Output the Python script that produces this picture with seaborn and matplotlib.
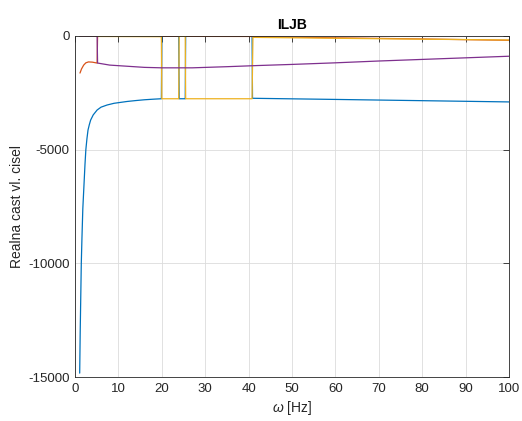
import matplotlib
matplotlib.use("Agg")
import matplotlib.pyplot as plt
import seaborn as sns
import numpy as np

# Series data
blue_x = [1.08, 1.2, 1.3, 1.45, 1.6, 1.8, 2.07, 2.3, 2.5, 2.75, 3.0, 3.3, 3.6, 4.2, 5.1, 6.0, 7.4,
          9.0, 10.5, 12, 14, 16, 18, 19.9,
          20.0, 23.9, 24.0, 25.4, 25.5, 40.8, 40.9, 60, 80, 100]
blue_y = [-14830, -13000, -11800, -10000, -8900, -7600, -6550, -5650, -5000, -4520, -4135, -3900,
          -3700, -3470, -3255, -3130, -3035, -2960, -2920, -2880, -2840, -2805, -2780, -2760,
          -10, -10, -2760, -2760, -10, -10, -2740, -2790, -2845, -2900]

orange_x = [1.15, 1.5, 2.0, 2.5, 3.1, 4.0, 5.1, 5.2, 20, 40, 60, 80, 100]
orange_y = [-1630, -1450, -1280, -1180, -1140, -1150, -1190, -10, -15, -20, -80, -130, -190]

yellow_x = [1.1, 5.4, 19.9, 20.0, 23.9, 24.0, 25.4, 25.5, 40.8, 41.0, 60, 80, 100]
yellow_y = [0, -20, -30, -2760, -2760, -10, -10, -2760, -2760, -60, -100, -140, -175]

purple_x = [1.1, 5.1, 5.2, 8, 12, 16, 20, 27, 35, 42, 50, 60, 70, 80, 90, 100]
purple_y = [0, 0, -1190, -1280, -1330, -1380, -1400, -1400, -1350, -1300, -1250, -1180,
            -1100, -1030, -960, -890]

colors = ["#0072BD", "#D95319", "#EDB120", "#7E2F8E"]
series = [(blue_x, blue_y), (orange_x, orange_y), (yellow_x, yellow_y), (purple_x, purple_y)]

x_ticks = [0, 10, 20, 30, 40, 50, 60, 70, 80, 90, 100]
y_ticks = [0, -5000, -10000, -15000]

sns.set_theme(style="white")
plt.rcParams['font.family'] = ['Liberation Sans', 'DejaVu Sans']
plt.rcParams['mathtext.fontset'] = 'custom'
plt.rcParams['mathtext.it'] = 'Liberation Sans:italic'

fig = plt.figure(figsize=(5.22, 4.21), dpi=100)
ax = fig.add_subplot(111)
fig.subplots_adjust(left=75/522, right=509/522, top=1-36/421, bottom=1-377/421)

for (xs, ys), c in zip(series, colors):
    sns.lineplot(x=xs, y=ys, color=c, sort=False, estimator=None, linewidth=0.9, ax=ax)

ax.set_xlim(0, 100)
ax.set_ylim(-15000, 0)
ax.set_xticks(x_ticks)
ax.set_yticks(y_ticks)
ax.set_xticklabels([str(t) for t in x_ticks])
ax.set_yticklabels([str(t) for t in y_ticks])
ax.grid(True, color="#dcdcdc", linewidth=0.6)
ax.set_axisbelow(True)
ax.tick_params(direction="in", top=True, right=True, length=4, width=0.6,
               colors="#262626", labelsize=9.5, pad=4)
for s in ax.spines.values():
    s.set_color("#262626")
    s.set_linewidth(0.6)
ax.set_title("ILJB", fontsize=10, fontweight="bold", color="#000000", pad=5)
ax.set_xlabel(r"$\omega$ [Hz]", fontsize=10, color="#262626", labelpad=3)
ax.set_ylabel("Realna cast vl. cisel", fontsize=10, color="#262626", labelpad=3)

fig.savefig("out.png", dpi=100)
